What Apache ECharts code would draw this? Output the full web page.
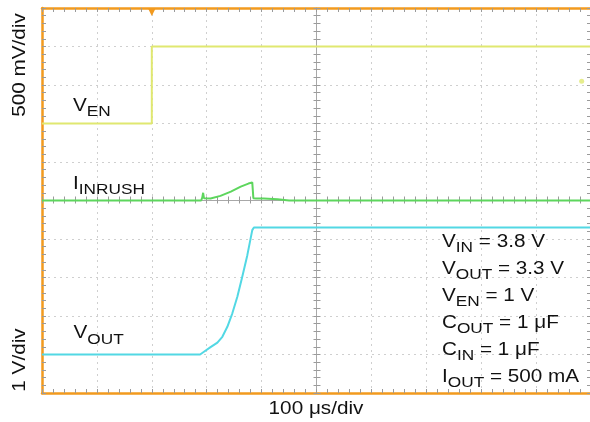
<!DOCTYPE html>
<html>
<head>
<meta charset="utf-8">
<script src="https://cdn.jsdelivr.net/npm/echarts@6/dist/echarts.min.js"></script>
<style>
  html, body { margin: 0; padding: 0; background: #ffffff; }
  #chart { width: 590px; height: 422px; }
</style>
</head>
<body>
<div id="chart"></div>
<script>
// Time base: 100 µs/div, t = 0 at the EN rising edge (trigger)
const timeRangeUs = [-200, 800];
const timeDivUs = 100;
const triggerTimeUs = 0;

// V_EN trace, volts (500 mV/div)
const venTimeUs = [-200, 0, 0, 800];
const venVolts  = [0, 0, 1, 1];
const venLevelMarker = [[783, 0.55]];

// I_INRUSH trace, mA (100 mA/div)
const inrushTimeUs     = [-200, 90, 92, 93.5, 95, 97, 107, 125, 144, 162, 176, 183, 185, 190, 204, 229, 250, 800];
const inrushMilliamps  = [0, 0, 8, 20, 6, 1, 5, 12, 23, 36, 44, 47, 6, 5, 5, 3, 0, 0];

// V_OUT trace, volts (1 V/div)
const voutTimeUs = [-200, 88, 95, 107, 119.5, 128.5, 137.6, 146.7, 155.8, 164.8, 174, 183, 186, 800];
const voutVolts  = [0, 0, 0.07, 0.19, 0.31, 0.46, 0.72, 1.07, 1.50, 2.02, 2.58, 3.23, 3.3, 3.3];

// Test conditions: [symbol, subscript, value]
const conditions = [
  ['V', 'IN', ' = 3.8 V'],
  ['V', 'OUT', ' = 3.3 V'],
  ['V', 'EN', ' = 1 V'],
  ['C', 'OUT', ' = 1 \u03bcF'],
  ['C', 'IN', ' = 1 \u03bcF'],
  ['I', 'OUT', ' = 500 mA']
];

const ORANGE = '#F29A1E';
const TICK = '#9a9a9a';
const DOTS = '#cfcfcf';
const FONT = '"Liberation Sans", Arial, Helvetica, sans-serif';
const WIDEN = 1.15;

const pairs = (xs, ys) => xs.map((x, i) => [x, ys[i]]);

const chart = echarts.init(document.getElementById('chart'), null, { renderer: 'canvas' });

function timeAxis(extra) {
  return Object.assign({
    type: 'value', min: timeRangeUs[0], max: timeRangeUs[1], interval: timeDivUs,
    axisLabel: { show: false },
    axisLine: { show: true, onZero: false, lineStyle: { color: ORANGE, width: 2.5 } },
    axisTick: { show: true, inside: true, length: 4, lineStyle: { color: TICK } },
    minorTick: { show: true, splitNumber: 5, length: 4, lineStyle: { color: TICK } },
    splitLine: { show: false }
  }, extra);
}

function levelAxis(min, max, interval, extra) {
  return Object.assign({
    type: 'value', min: min, max: max, interval: interval,
    axisLabel: { show: false },
    axisLine: { show: true, onZero: false, lineStyle: { color: ORANGE, width: 2.5 } },
    axisTick: { show: true, inside: true, length: 4, lineStyle: { color: TICK } },
    minorTick: { show: true, splitNumber: 5, length: 4, lineStyle: { color: TICK } },
    splitLine: { show: false }
  }, extra);
}

function richLabel(parts, x, y) {
  return {
    type: 'text', x: x, y: y, scaleX: WIDEN, z: 10,
    style: {
      text: '{v|' + parts[0] + '}{s|' + parts[1] + '}' + (parts[2] ? '{v|' + parts[2] + '}' : ''),
      align: 'left', verticalAlign: 'top',
      rich: {
        v: { fontSize: 18, lineHeight: 18, fontFamily: FONT, fill: '#111', verticalAlign: 'top' },
        s: { fontSize: 15, lineHeight: 15, fontFamily: FONT, fill: '#111', verticalAlign: 'top', padding: [7.5, 0, 0, 0] }
      }
    }
  };
}

const graphics = [
  { type: 'text', x: 20, y: 65, rotation: Math.PI / 2, scaleX: WIDEN, z: 10,
    style: { text: '500 mV/div', fontSize: 18, fontFamily: FONT, fill: '#111', align: 'center', verticalAlign: 'middle' } },
  { type: 'text', x: 20, y: 360, rotation: Math.PI / 2, scaleX: WIDEN, z: 10,
    style: { text: '1 V/div', fontSize: 18, fontFamily: FONT, fill: '#111', align: 'center', verticalAlign: 'middle' } },
  { type: 'text', x: 316, y: 409, scaleX: WIDEN, z: 10,
    style: { text: '100 \u03bcs/div', fontSize: 18, fontFamily: FONT, fill: '#111', align: 'center', verticalAlign: 'middle' } },
  richLabel(['V', 'EN'], 73, 96.7),
  richLabel(['I', 'INRUSH'], 73, 175),
  richLabel(['V', 'OUT'], 73.5, 324.4)
];
conditions.forEach((c, i) => graphics.push(richLabel(c, 442, 232.7 + i * 27)));

const option = {
  animation: false,
  backgroundColor: '#ffffff',
  grid: { left: 42, top: 8, width: 549, height: 385, outerBoundsMode: 'none', containLabel: false },
  xAxis: [
    // frame bottom, with the dotted division grid
    timeAxis({ position: 'bottom', splitLine: { show: true, lineStyle: { color: DOTS, type: [2, 4], width: 1 } } }),
    // frame top
    timeAxis({ position: 'top' }),
    // center horizontal graticule line, ticks on both sides
    timeAxis({ position: 'bottom', offset: -192.5, axisLine: { show: true, onZero: false, lineStyle: { color: '#a8a8a8', width: 1 } } }),
    timeAxis({ position: 'bottom', offset: -192.5, axisLine: { show: false, onZero: false },
      axisTick: { show: true, inside: false, length: 3, lineStyle: { color: TICK } },
      minorTick: { show: true, splitNumber: 5, length: 3, lineStyle: { color: TICK } } })
  ],
  yAxis: [
    // V_EN scale (500 mV/div), left frame with dotted division grid
    levelAxis(-3.5, 1.5, 0.5, { position: 'left', splitLine: { show: true, lineStyle: { color: DOTS, type: [2, 4], width: 1 } } }),
    // V_OUT scale (1 V/div), right frame
    levelAxis(-1, 9, 1, { position: 'right', axisLine: { show: false, onZero: false } }),
    // I_INRUSH scale (100 mA/div), center vertical graticule line
    levelAxis(-500, 500, 100, { position: 'left', offset: -274.5, axisLine: { show: true, onZero: false, lineStyle: { color: '#a8a8a8', width: 1 } } }),
    levelAxis(-500, 500, 100, { position: 'left', offset: -274.5, axisLine: { show: false, onZero: false },
      axisTick: { show: true, inside: false, length: 3, lineStyle: { color: TICK } },
      minorTick: { show: true, splitNumber: 5, length: 3, lineStyle: { color: TICK } } })
  ],
  series: [
    {
      name: 'V_EN', type: 'line', xAxisIndex: 0, yAxisIndex: 0, showSymbol: false, z: 3,
      lineStyle: { color: '#E0E870', width: 2 },
      data: pairs(venTimeUs, venVolts),
      markPoint: {
        silent: true,
        symbol: 'triangle', symbolSize: [8, 8], symbolRotate: 180, symbolOffset: [0, 4],
        itemStyle: { color: ORANGE }, label: { show: false },
        data: [{ coord: [triggerTimeUs, 1.5] }]
      }
    },
    {
      name: 'V_EN level', type: 'scatter', xAxisIndex: 0, yAxisIndex: 0, z: 3,
      symbolSize: 5, itemStyle: { color: '#E0E870' }, data: venLevelMarker
    },
    {
      name: 'I_INRUSH', type: 'line', xAxisIndex: 0, yAxisIndex: 2, showSymbol: false, z: 3,
      lineStyle: { color: '#5DD65D', width: 2 },
      data: pairs(inrushTimeUs, inrushMilliamps)
    },
    {
      name: 'V_OUT', type: 'line', xAxisIndex: 0, yAxisIndex: 1, showSymbol: false, z: 3,
      lineStyle: { color: '#52D8E4', width: 2 },
      data: pairs(voutTimeUs, voutVolts)
    }
  ],
  graphic: graphics
};

chart.setOption(option);
</script>
</body>
</html>
